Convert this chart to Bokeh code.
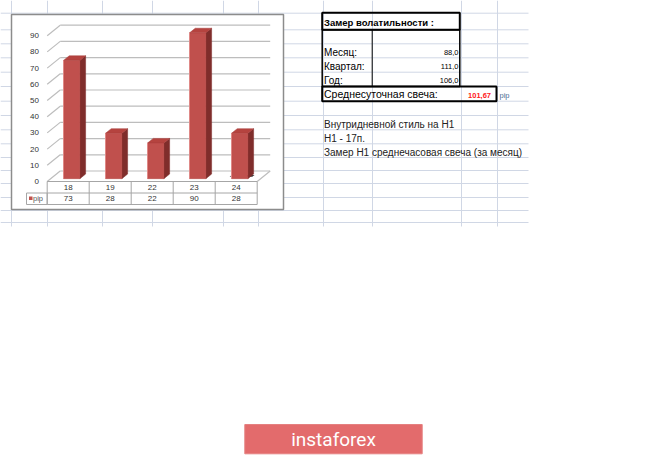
from bokeh.plotting import figure
from bokeh.models import Range1d
from bokeh.embed import file_html
from bokeh.resources import INLINE
from bokeh.core.properties import value

# ---------------- data ----------------
categories = ["18", "19", "22", "23", "24"]
pip_values = [73, 28, 22, 90, 28]
y_ticks = [0, 10, 20, 30, 40, 50, 60, 70, 80, 90]
series_name = "pip"

table_title = "Замер  волатильности  :"
period_labels = ["Месяц:", "Квартал:", "Год:"]
period_values = ["88,0", "111,0", "106,0"]
avg_label = "Среднесуточная свеча:"
avg_value = "101,67"
avg_unit = "pip"
notes = ["Внутридневной стиль на H1", "H1 - 17п.",
         "Замер H1 среднечасовая свеча (за месяц)"]
brand = "instaforex"

# ---------------- layout ----------------
W, H, OFF = 665, 455, 0
X0, CW = 46.7, 42.0        # chart floor front-left (px) and category width (px)
Y0, K = 181.0, 1.62        # value 0 on front plane (px) and px per value unit
DXP, DYP = 13.0, 10.5      # depth offset in px
ddx, ddv = DXP / CW, DYP / K
BW, D0, D1 = 0.39, 0.27, 0.71
FONT = value("Liberation Sans")

p = figure(width=W, height=H, x_range=Range1d(OFF, OFF + W),
           y_range=Range1d(OFF + H, OFF), output_backend="svg",
           toolbar_location=None, min_border=0)
p.axis.visible = False
p.grid.visible = False
p.outline_line_color = None
p.background_fill_color = "white"
p.border_fill_color = "white"
p.extra_x_ranges = {"cx": Range1d((OFF - X0) / CW, (OFF + W - X0) / CW)}
p.extra_y_ranges = {"vy": Range1d((Y0 - (OFF + H)) / K, (Y0 - OFF) / K)}

# ---------------- spreadsheet grid ----------------
grid_c = "#d0d7e5"
vlines_x = [11, 47, 102, 152, 223, 258, 323, 372, 461, 497]
hlines_y = [12.7, 29.3, 43.3, 57.3, 71.7, 86, 100.7, 115, 129.3, 143.3,
            157, 170, 183, 197, 210, 222]
p.segment(x0=vlines_x, y0=[0] * len(vlines_x), x1=vlines_x,
          y1=[226] * len(vlines_x), line_color=grid_c, line_width=1)
p.segment(x0=[0] * len(hlines_y), y0=hlines_y, x1=[528] * len(hlines_y),
          y1=hlines_y, line_color=grid_c, line_width=1)

# ---------------- chart box ----------------
p.quad(left=11, right=283, top=14, bottom=209, fill_color="white",
       line_color="#8c8c8c", line_width=1.5)

gl_c = "#bdbdbd"
# back wall gridlines + side diagonals
p.segment(x0=[ddx] * len(y_ticks), y0=[t + ddv for t in y_ticks],
          x1=[len(categories) + ddx] * len(y_ticks),
          y1=[t + ddv for t in y_ticks], line_color=gl_c, line_width=1.2,
          x_range_name="cx", y_range_name="vy")
p.segment(x0=[0] * len(y_ticks), y0=y_ticks, x1=[ddx] * len(y_ticks),
          y1=[t + ddv for t in y_ticks], line_color=gl_c, line_width=1.2,
          x_range_name="cx", y_range_name="vy")
# floor right diagonal
n = len(categories)
p.segment(x0=[n], y0=[0], x1=[n + ddx], y1=[ddv], line_color=gl_c,
          line_width=1.2, x_range_name="cx", y_range_name="vy")


def pt(c, v, d):
    return c + d * ddx, v + d * ddv


# dark floor shadow visible at the last column's base
c_last = n - 0.5
sh = [pt(c_last - BW / 2 - 0.1, 0, 0.45), pt(c_last + BW / 2 + 0.05, 0, 0.45),
      pt(c_last + BW / 2 + 0.05, 0, 0.62), pt(c_last - BW / 2 - 0.1, 0, 0.62)]
p.patch([q[0] for q in sh], [q[1] for q in sh], fill_color="#3a3a3a",
        line_color=None, x_range_name="cx", y_range_name="vy")

fx, fy, sx, sy, tx, ty, hx, hy = [], [], [], [], [], [], [], []
for i, val in enumerate(pip_values):
    c = i + 0.5
    l, r = c - BW / 2, c + BW / 2
    for quad, (ax, ay) in (
        ([(l, 0, D0), (r, 0, D0), (r, val, D0), (l, val, D0)], (fx, fy)),
        ([(r, 0, D0), (r, 0, D1), (r, val, D1), (r, val, D0)], (sx, sy)),
        ([(l, val, D0), (r, val, D0), (r, val, D1), (l, val, D1)], (tx, ty)),
    ):
        pts = [pt(*q) for q in quad]
        ax.append([q[0] for q in pts])
        ay.append([q[1] for q in pts])
    a = pt(l, 0, D0)
    b = pt(l, val, D0)
    hx.append([a[0], b[0]])
    hy.append([a[1], b[1]])

p.patches(sx, sy, fill_color="#7f2d2b", line_color="#7f2d2b", line_width=0.5,
          x_range_name="cx", y_range_name="vy")
p.patches(tx, ty, fill_color="#b5433f", line_color="#a63d3a", line_width=0.5,
          x_range_name="cx", y_range_name="vy")
p.patches(fx, fy, fill_color="#c0504d", line_color="#b0413e", line_width=0.5,
          x_range_name="cx", y_range_name="vy")
p.multi_line(hx, hy, line_color="#e08a88", line_width=1,
             x_range_name="cx", y_range_name="vy")

# y tick labels
p.text(x=[38.5] * len(y_ticks), y=y_ticks, text=[str(t) for t in y_ticks],
       y_range_name="vy", text_align="right", text_baseline="middle",
       text_font=FONT, text_font_size="8px", text_color="#333333")

# ---------------- data table ----------------
tb_c = "#a6a6a6"
R1T, RH = Y0, 11.5
p.segment(x0=[0, 0, 0], y0=[R1T, R1T + RH, R1T + 2 * RH], x1=[n, n, n],
          y1=[R1T, R1T + RH, R1T + 2 * RH], line_color=tb_c, line_width=1,
          x_range_name="cx")
p.segment(x0=list(range(n + 1)), y0=[R1T] * (n + 1), x1=list(range(n + 1)),
          y1=[R1T + 2 * RH] * (n + 1), line_color=tb_c, line_width=1,
          x_range_name="cx")
p.quad(left=26, right=X0, top=R1T + RH, bottom=R1T + 2 * RH,
       fill_color=None, line_color=tb_c, line_width=1)
p.quad(left=28.5, right=32, top=R1T + RH + 3.5, bottom=R1T + RH + 7,
       fill_color="#c0504d", line_color=None)
p.text(x=[32.5], y=[R1T + 1.5 * RH], text=[series_name], text_align="left",
       text_baseline="middle", text_font=FONT, text_font_size="7.5px",
       text_color="#595959")
p.text(x=[i + 0.5 for i in range(n)], y=[R1T + 0.5 * RH] * n, text=categories,
       x_range_name="cx", text_align="center", text_baseline="middle",
       text_font=FONT, text_font_size="8px", text_color="#333333")
p.text(x=[i + 0.5 for i in range(n)], y=[R1T + 1.5 * RH] * n,
       text=[str(v) for v in pip_values], x_range_name="cx",
       text_align="center", text_baseline="middle", text_font=FONT,
       text_font_size="8px", text_color="#333333")

# ---------------- volatility table ----------------
p.quad(left=321.7, right=459.3, top=12.3, bottom=29.3, fill_color=None,
       line_color="black", line_width=2)
p.quad(left=321.7, right=459.3, top=29.3, bottom=86, fill_color=None,
       line_color="black", line_width=1.5)
p.segment(x0=[371.7], y0=[29.3], x1=[371.7], y1=[86], line_color="black",
          line_width=1)
p.quad(left=321.7, right=496, top=86, bottom=100.7, fill_color=None,
       line_color="black", line_width=2)
p.text(x=[323.5], y=[21.5], text=[table_title], text_align="left",
       text_baseline="middle", text_font=FONT, text_font_size="9.5px",
       text_font_style="bold", text_color="black")
rows_y = [51.5, 65.5, 79.5]
p.text(x=[323.5] * 3, y=rows_y, text=period_labels, text_align="left",
       text_baseline="middle", text_font=FONT, text_font_size="10px",
       text_color="black")
p.text(x=[458] * 3, y=rows_y, text=period_values, text_align="right",
       text_baseline="middle", text_font=FONT, text_font_size="7.5px",
       text_color="black")
p.text(x=[323.5], y=[93.5], text=[avg_label], text_align="left",
       text_baseline="middle", text_font=FONT, text_font_size="10.5px",
       text_color="black")
p.text(x=[490.5], y=[94.5], text=[avg_value], text_align="right",
       text_baseline="middle", text_font=FONT, text_font_size="7.5px",
       text_font_style="bold", text_color="#ff2020")
p.text(x=[499], y=[94.5], text=[avg_unit], text_align="left",
       text_baseline="middle", text_font=FONT, text_font_size="7.5px",
       text_color="#4f6f95")
p.text(x=[323.5] * 3, y=[124, 137.5, 151.5], text=notes, text_align="left",
       text_baseline="middle", text_font=FONT, text_font_size="10px",
       text_color="#222222")

# ---------------- brand button ----------------
p.quad(left=244.3, right=421.7, top=424, bottom=453.3, fill_color="#e36b6c",
       line_color="#e58080", line_width=1)
p.text(x=[333], y=[439], text=[brand], text_align="center",
       text_baseline="middle", text_font=value("Roboto"),
       text_font_size="19px", text_color="white")

open("out.html", "w").write(file_html(p, INLINE))
